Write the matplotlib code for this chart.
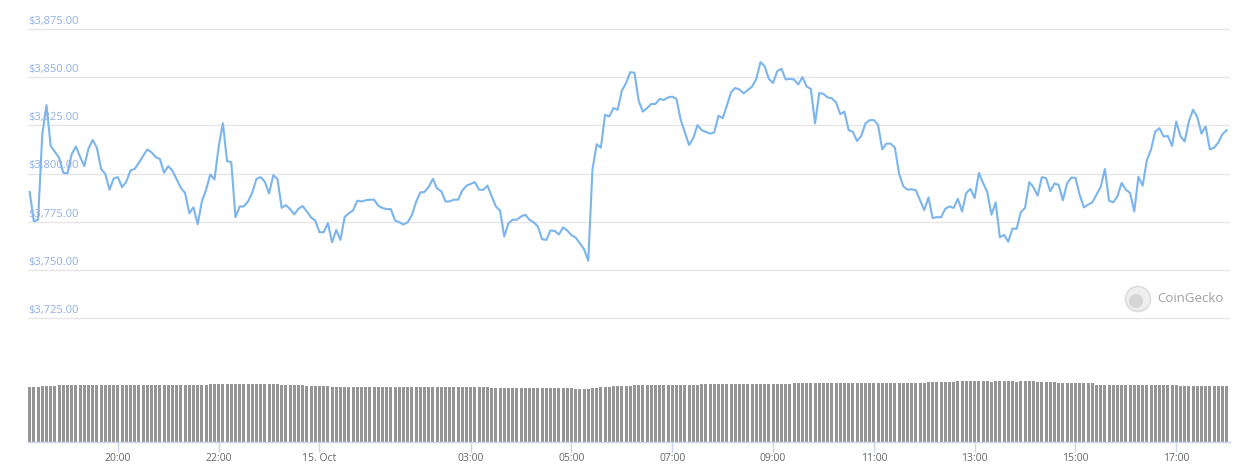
"""
ETH price (24h, 5-minute points) with rolling volume bars, CoinGecko style.
"""
import matplotlib
matplotlib.use("Agg")
import matplotlib.pyplot as plt
from matplotlib.patches import Circle
import pandas as pd

# 5-minute samples from 14 Oct 18:15 to 15 Oct 18:00
start = "2021-10-14 18:15"
n_points = 286

price = [
    3790.4, 3775.1, 3776.0, 3820.4, 3835.5, 3814.3, 3811.2, 3808.2, 3800.4, 3800.0,
    3810.0, 3814.0, 3808.7, 3803.8, 3812.9, 3817.4, 3813.4, 3802.4, 3799.8, 3791.6,
    3797.4, 3798.1, 3792.9, 3795.7, 3801.6, 3802.4, 3805.6, 3809.0, 3812.5, 3811.0,
    3808.5, 3807.5, 3800.4, 3803.8, 3801.5, 3796.9, 3792.5, 3789.9, 3779.4, 3782.4,
    3773.7, 3785.5, 3791.6, 3799.5, 3796.9, 3813.9, 3826.1, 3806.4,
    3805.9, 3777.3, 3782.9, 3782.9, 3785.5, 3790.2, 3797.2, 3798.1, 3795.7, 3789.6,
    3799.1, 3797.2, 3782.2, 3783.6, 3781.5, 3778.8, 3781.7, 3783.1, 3780.3, 3777.2,
    3775.6, 3769.5, 3769.5, 3774.2, 3764.3, 3770.7, 3765.5, 3777.4, 3779.4, 3780.8,
    3785.9, 3785.5, 3786.1, 3786.4, 3786.4, 3783.3, 3782.1, 3781.5, 3781.5, 3775.6,
    3774.7, 3773.5, 3774.7, 3778.4, 3785.2, 3790.2, 3790.4, 3793.0,
    3797.2, 3792.2, 3790.8, 3785.5, 3785.5, 3786.4, 3786.4, 3791.1, 3793.7, 3794.6,
    3795.5, 3791.6, 3791.5, 3793.7, 3788.2, 3782.9, 3780.7, 3767.3, 3774.2, 3776.0,
    3776.0, 3777.7, 3778.6, 3776.0, 3774.7, 3772.5, 3765.9, 3765.5, 3770.4, 3770.2,
    3768.3, 3772.0, 3770.4, 3768.0, 3766.7, 3763.8, 3760.7, 3754.7, 3802.1, 3815.2,
    3813.4, 3830.5, 3829.6, 3834.0, 3833.1, 3843.0, 3847.0,
    3852.6, 3852.3, 3837.8, 3832.1, 3834.0, 3836.1, 3836.1, 3838.7, 3838.2, 3839.5,
    3839.9, 3838.7, 3827.9, 3821.3, 3814.8, 3818.3, 3825.1, 3822.5, 3821.6, 3820.7,
    3821.3, 3830.0, 3828.7, 3835.2, 3842.2, 3844.4, 3843.6, 3841.6, 3843.4, 3845.1,
    3849.1, 3857.8, 3855.7, 3849.1, 3847.0, 3853.1, 3854.4, 3848.8, 3849.1, 3848.8,
    3846.2, 3850.0, 3845.1, 3843.9, 3826.0, 3841.8, 3841.3, 3839.5,
    3839.0, 3836.9, 3830.8, 3832.1, 3822.5, 3821.6, 3816.9, 3819.5, 3826.0, 3827.7,
    3827.7, 3825.3, 3812.5, 3815.5, 3815.5, 3813.4, 3800.0, 3793.4, 3791.6, 3791.8,
    3791.3, 3786.1, 3781.0, 3787.6, 3776.8, 3777.4, 3777.2, 3781.7, 3782.9, 3782.1,
    3786.9, 3780.3, 3789.9, 3792.0, 3787.3, 3800.3, 3795.1, 3790.4, 3778.6, 3785.0,
    3766.9, 3768.1, 3764.6, 3771.4, 3771.3, 3780.0, 3782.1,
    3795.5, 3792.9, 3788.5, 3798.1, 3797.6, 3790.8, 3794.8, 3794.1, 3786.1, 3794.8,
    3797.9, 3797.7, 3789.0, 3782.4, 3783.8, 3785.0, 3789.0, 3793.0, 3802.3, 3785.9,
    3785.0, 3788.2, 3795.1, 3791.6, 3789.9, 3780.3, 3798.3, 3793.7, 3806.8, 3812.5,
    3821.8, 3823.5, 3819.2, 3819.5, 3814.3, 3827.0, 3819.5, 3816.6, 3827.0, 3833.1,
    3829.4, 3820.7, 3824.4, 3812.5, 3813.4, 3816.0, 3820.4, 3822.5,
]

# rolling 24h volume, billions USD (one row per hour)
volume = [
    16.3, 16.3, 16.3, 16.7, 16.7, 16.7, 16.7, 17.0, 17.0, 17.0, 17.0, 17.0,
    17.0, 17.0, 17.0, 16.95, 17.0, 17.0, 17.0, 17.0, 17.0, 17.0, 17.0, 17.0,
    17.0, 17.0, 17.0, 17.0, 17.0, 17.0, 17.0, 17.0, 17.0, 17.0, 17.0, 17.0,
    17.0, 17.0, 17.0, 17.0, 17.15, 17.15, 17.15, 17.3, 17.3, 17.3, 17.3, 17.3,
    17.3, 17.3, 17.3, 17.3, 17.3, 17.3, 17.3, 17.3, 17.3, 17.3, 17.3, 17.3,
    17.0, 17.0, 17.0, 17.0, 17.0, 17.0, 16.8, 16.8, 16.8, 16.8, 16.8, 16.8,
    16.5, 16.5, 16.5, 16.5, 16.5, 16.5, 16.5, 16.5, 16.5, 16.5, 16.5, 16.5,
    16.5, 16.5, 16.5, 16.5, 16.5, 16.5, 16.5, 16.5, 16.5, 16.5, 16.5, 16.5,
    16.5, 16.5, 16.5, 16.5, 16.5, 16.5, 16.5, 16.5, 16.5, 16.5, 16.5, 16.5,
    16.5, 16.5, 16.2, 16.2, 16.2, 16.2, 16.2, 16.2, 16.2, 16.2, 16.2, 16.2,
    16.2, 16.2, 16.2, 16.2, 16.2, 16.2, 16.2, 16.2, 16.2, 16.2, 15.9, 15.9,
    15.9, 15.9, 16.2, 16.2, 16.5, 16.5, 16.5, 16.8, 16.8, 16.8, 16.8, 16.8,
    17.1, 17.1, 17.1, 17.1, 17.1, 17.1, 17.1, 17.1, 17.1, 17.1, 17.1, 17.1,
    17.1, 17.1, 17.1, 17.1, 17.4, 17.4, 17.4, 17.4, 17.4, 17.4, 17.4, 17.4,
    17.4, 17.4, 17.4, 17.4, 17.4, 17.4, 17.4, 17.4, 17.4, 17.4, 17.4, 17.4,
    17.4, 17.4, 17.6, 17.6, 17.6, 17.6, 17.6, 17.6, 17.6, 17.6, 17.6, 17.6,
    17.6, 17.6, 17.6, 17.6, 17.55, 17.6, 17.6, 17.6, 17.6, 17.6, 17.6, 17.6,
    17.6, 17.6, 17.65, 17.65, 17.65, 17.65, 17.65, 17.65, 17.65, 17.65, 17.9, 17.9,
    17.9, 17.9, 17.9, 17.9, 17.9, 18.2, 18.2, 18.2, 18.2, 18.2, 18.2, 18.2,
    18.2, 18.05, 18.2, 18.2, 18.2, 18.2, 18.2, 18.05, 18.2, 18.2, 18.2, 18.2,
    17.9, 17.9, 17.9, 17.9, 17.9, 17.5, 17.5, 17.5, 17.5, 17.5, 17.5, 17.5,
    17.5, 17.5, 17.0, 17.0, 17.0, 17.0, 17.0, 17.0, 17.0, 17.0, 17.0, 17.0,
    17.0, 17.0, 17.0, 17.0, 17.0, 17.0, 17.0, 17.0, 17.0, 17.0, 16.8, 16.8,
    16.8, 16.8, 16.8, 16.8, 16.8, 16.8, 16.8, 16.8, 16.8, 16.8,
]

price_ticks = [3725, 3750, 3775, 3800, 3825, 3850, 3875]
time_ticks = ["2021-10-14 20:00", "2021-10-14 22:00", "2021-10-15 00:00",
              "2021-10-15 03:00", "2021-10-15 05:00", "2021-10-15 07:00",
              "2021-10-15 09:00", "2021-10-15 11:00", "2021-10-15 13:00",
              "2021-10-15 15:00", "2021-10-15 17:00"]
time_labels = ["20:00", "22:00", "15. Oct", "03:00", "05:00", "07:00",
               "09:00", "11:00", "13:00", "15:00", "17:00"]

times = pd.date_range(start, periods=n_points, freq="5min")

W, H = 1251, 470
fig = plt.figure(figsize=(W / 100, H / 100), dpi=100)
plt.rcParams["font.family"] = ["Open Sans", "DejaVu Sans"]

left, right = 28, 1230
ax = fig.add_axes([left / W, 1 - 327.6 / H, (right - left) / W, (327.6 - 19.4) / H])
ax_vol = fig.add_axes([left / W, 1 - 441.7 / H, (right - left) / W, (441.7 - 330) / H])

x0 = times[0] - pd.Timedelta(minutes=2)
x1 = times[-1] + pd.Timedelta(minutes=4)

# price line
ax.plot(times, price, color="#7cb5ec", linewidth=1.5, solid_joinstyle="round", zorder=3)
ax.set_xlim(x0, x1)
ax.set_ylim(3720, 3880)
ax.set_yticks(price_ticks)
ax.set_xticks([])
ax.grid(axis="y", color="#e6e6e6", linewidth=1)
ax.tick_params(axis="y", length=0, labelleft=False)
for s in ax.spines.values():
    s.set_visible(False)
for v in price_ticks:
    ax.annotate(f"${v:,.2f}", xy=(0, v), xycoords=("axes fraction", "data"),
                xytext=(0, 1.5), textcoords="offset points",
                ha="left", va="bottom", fontsize=8, color="#8fb0e6")

# watermark (circle in inches so it stays round)
cx, cy = 1138 / 100, (H - 299) / 100
fig.patches.append(Circle((cx, cy), 0.125, transform=fig.dpi_scale_trans,
                          facecolor="#eeeeee", edgecolor="#dddddd", linewidth=1.2))
fig.patches.append(Circle((cx - 0.02, cy - 0.02), 0.07, transform=fig.dpi_scale_trans,
                          facecolor="#d6d6d6", edgecolor="none"))
fig.text(1157 / W, 1 - 299 / H, "CoinGecko", fontsize=9.5, color="#a0a0a0",
         ha="left", va="center")

# volume bars
ax_vol.bar(times, volume, width=pd.Timedelta(minutes=3.6), color="#959595", linewidth=0)
ax_vol.set_xlim(x0, x1)
ax_vol.set_ylim(0, 33.5)
ax_vol.set_yticks([])
for name in ["top", "left", "right"]:
    ax_vol.spines[name].set_visible(False)
ax_vol.spines["bottom"].set_color("#ccd6eb")
ax_vol.spines["bottom"].set_linewidth(1)
ax_vol.set_xticks(pd.to_datetime(time_ticks))
ax_vol.set_xticklabels(time_labels)
ax_vol.tick_params(axis="x", length=7, width=1, color="#ccd6eb",
                   labelsize=7.5, labelcolor="#666666", pad=1)

fig.savefig("out.png", dpi=100)
